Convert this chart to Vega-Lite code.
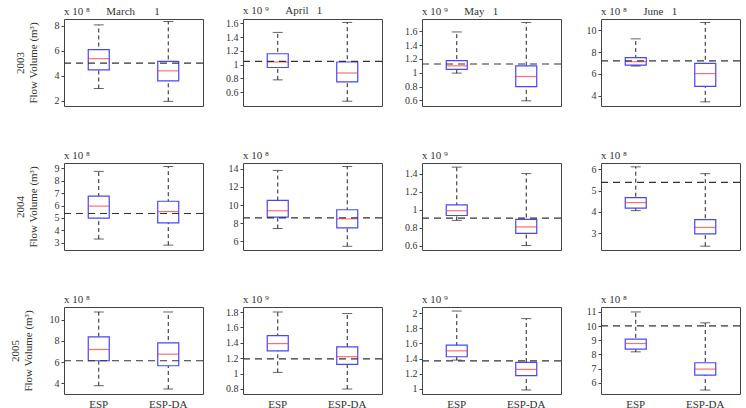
{
"$schema":"https://vega.github.io/schema/vega-lite/v6.json",
"background":"white",
"padding":{"left":8,"top":4,"right":2,"bottom":4},
"data":{"values":[
{"p":"2003-Mar","g":"ESP","lo":3.0,"q1":4.49,"md":5.38,"q3":6.11,"hi":8.08,"ref":5.02},
{"p":"2003-Mar","g":"ESP-DA","lo":1.97,"q1":3.6,"md":4.41,"q3":5.16,"hi":8.35,"ref":5.02},
{"p":"2003-Apr","g":"ESP","lo":0.78,"q1":0.96,"md":1.04,"q3":1.16,"hi":1.47,"ref":1.05},
{"p":"2003-Apr","g":"ESP-DA","lo":0.47,"q1":0.75,"md":0.88,"q3":1.04,"hi":1.615,"ref":1.05},
{"p":"2003-May","g":"ESP","lo":0.995,"q1":1.05,"md":1.10,"q3":1.176,"hi":1.59,"ref":1.127},
{"p":"2003-May","g":"ESP-DA","lo":0.595,"q1":0.80,"md":0.946,"q3":1.10,"hi":1.727,"ref":1.127},
{"p":"2003-Jun","g":"ESP","lo":6.72,"q1":6.8,"md":7.12,"q3":7.5,"hi":9.21,"ref":7.2},
{"p":"2003-Jun","g":"ESP-DA","lo":3.44,"q1":4.85,"md":6.03,"q3":6.96,"hi":10.71,"ref":7.2},
{"p":"2004-Mar","g":"ESP","lo":3.31,"q1":4.99,"md":5.95,"q3":6.75,"hi":8.74,"ref":5.36},
{"p":"2004-Mar","g":"ESP-DA","lo":2.82,"q1":4.61,"md":5.51,"q3":6.34,"hi":9.13,"ref":5.36},
{"p":"2004-Apr","g":"ESP","lo":7.41,"q1":8.66,"md":9.37,"q3":10.51,"hi":13.82,"ref":8.58},
{"p":"2004-Apr","g":"ESP-DA","lo":5.45,"q1":7.48,"md":8.48,"q3":9.48,"hi":14.25,"ref":8.58},
{"p":"2004-May","g":"ESP","lo":0.88,"q1":0.934,"md":0.987,"q3":1.052,"hi":1.472,"ref":0.905},
{"p":"2004-May","g":"ESP-DA","lo":0.6,"q1":0.736,"md":0.807,"q3":0.89,"hi":1.4,"ref":0.905},
{"p":"2004-Jun","g":"ESP","lo":4.06,"q1":4.18,"md":4.44,"q3":4.67,"hi":6.12,"ref":5.39},
{"p":"2004-Jun","g":"ESP-DA","lo":2.39,"q1":2.97,"md":3.27,"q3":3.64,"hi":5.8,"ref":5.39},
{"p":"2005-Mar","g":"ESP","lo":3.78,"q1":6.13,"md":7.19,"q3":8.38,"hi":10.72,"ref":6.13},
{"p":"2005-Mar","g":"ESP-DA","lo":3.47,"q1":5.66,"md":6.75,"q3":7.81,"hi":10.72,"ref":6.13},
{"p":"2005-Apr","g":"ESP","lo":1.016,"q1":1.296,"md":1.39,"q3":1.494,"hi":1.8,"ref":1.19},
{"p":"2005-Apr","g":"ESP-DA","lo":0.8,"q1":1.119,"md":1.22,"q3":1.347,"hi":1.78,"ref":1.19},
{"p":"2005-May","g":"ESP","lo":1.38,"q1":1.424,"md":1.502,"q3":1.576,"hi":2.026,"ref":1.37},
{"p":"2005-May","g":"ESP-DA","lo":0.987,"q1":1.175,"md":1.258,"q3":1.349,"hi":1.926,"ref":1.37},
{"p":"2005-Jun","g":"ESP","lo":8.18,"q1":8.37,"md":8.77,"q3":9.08,"hi":11.0,"ref":10.01},
{"p":"2005-Jun","g":"ESP-DA","lo":5.48,"q1":6.54,"md":6.96,"q3":7.41,"hi":10.23,"ref":10.01}
]},
"columns":4,
"spacing":{"row":57,"column":40},
"bounds":"flush",
"concat":[
{"width":139,"height":87,"title":{"text":"x 10\u00a0⁸\u00a0\u00a0\u00a0\u00a0\u00a0\u00a0March\u00a0\u00a0\u00a0\u00a0\u00a0\u00a0\u00a01"},
 "transform":[{"filter":"datum.p==='2003-Mar'"}],
 "encoding":{"y":{"field":"md","type":"quantitative","scale":{"domain":[1.6,8.55],"nice":false,"zero":false},"axis":{"values":[2,4,6,8],"format":"~r","title":["2003","Flow Volume (m³)"]}}},
 "layer":[
  {"encoding":{"x":{"field":"g","type":"nominal","scale":{"domain":["ESP","ESP-DA"],"paddingInner":0,"paddingOuter":0},"axis":null}},
   "layer":[
    {"mark":{"type":"rule","color":"#222","strokeDash":[4,3]},"encoding":{"y":{"field":"lo","type":"quantitative"},"y2":{"field":"hi"}}},
    {"mark":{"type":"bar","size":21,"fill":"white","stroke":"#4646ff","strokeWidth":1.2},"encoding":{"y":{"field":"q1","type":"quantitative"},"y2":{"field":"q3"}}},
    {"mark":{"type":"tick","size":21,"thickness":1.2,"color":"#ff3030"}},
    {"mark":{"type":"tick","size":10,"thickness":1,"color":"#222"},"encoding":{"y":{"field":"hi","type":"quantitative"}}},
    {"mark":{"type":"tick","size":10,"thickness":1,"color":"#222"},"encoding":{"y":{"field":"lo","type":"quantitative"}}}
   ]},
  {"mark":{"type":"rule","color":"#333","strokeDash":[7,5],"strokeWidth":1.2},"encoding":{"y":{"field":"ref","type":"quantitative","aggregate":"mean"}}}
 ]},
{"width":139,"height":87,"title":{"text":"x 10\u00a0⁹\u00a0\u00a0\u00a0\u00a0\u00a0\u00a0April\u00a0\u00a0\u00a01"},
 "transform":[{"filter":"datum.p==='2003-Apr'"}],
 "encoding":{"y":{"field":"md","type":"quantitative","scale":{"domain":[0.40,1.665],"nice":false,"zero":false},"axis":{"values":[0.6,0.8,1,1.2,1.4,1.6],"format":"~r","title":null}}},
 "layer":[
  {"encoding":{"x":{"field":"g","type":"nominal","scale":{"domain":["ESP","ESP-DA"],"paddingInner":0,"paddingOuter":0},"axis":null}},
   "layer":[
    {"mark":{"type":"rule","color":"#222","strokeDash":[4,3]},"encoding":{"y":{"field":"lo","type":"quantitative"},"y2":{"field":"hi"}}},
    {"mark":{"type":"bar","size":21,"fill":"white","stroke":"#4646ff","strokeWidth":1.2},"encoding":{"y":{"field":"q1","type":"quantitative"},"y2":{"field":"q3"}}},
    {"mark":{"type":"tick","size":21,"thickness":1.2,"color":"#ff3030"}},
    {"mark":{"type":"tick","size":10,"thickness":1,"color":"#222"},"encoding":{"y":{"field":"hi","type":"quantitative"}}},
    {"mark":{"type":"tick","size":10,"thickness":1,"color":"#222"},"encoding":{"y":{"field":"lo","type":"quantitative"}}}
   ]},
  {"mark":{"type":"rule","color":"#333","strokeDash":[7,5],"strokeWidth":1.2},"encoding":{"y":{"field":"ref","type":"quantitative","aggregate":"mean"}}}
 ]},
{"width":139,"height":87,"title":{"text":"x 10\u00a0⁹\u00a0\u00a0\u00a0\u00a0\u00a0\u00a0May\u00a0\u00a0\u00a01"},
 "transform":[{"filter":"datum.p==='2003-May'"}],
 "encoding":{"y":{"field":"md","type":"quantitative","scale":{"domain":[0.52,1.777],"nice":false,"zero":false},"axis":{"values":[0.6,0.8,1,1.2,1.4,1.6,1.8],"format":"~r","title":null}}},
 "layer":[
  {"encoding":{"x":{"field":"g","type":"nominal","scale":{"domain":["ESP","ESP-DA"],"paddingInner":0,"paddingOuter":0},"axis":null}},
   "layer":[
    {"mark":{"type":"rule","color":"#222","strokeDash":[4,3]},"encoding":{"y":{"field":"lo","type":"quantitative"},"y2":{"field":"hi"}}},
    {"mark":{"type":"bar","size":21,"fill":"white","stroke":"#4646ff","strokeWidth":1.2},"encoding":{"y":{"field":"q1","type":"quantitative"},"y2":{"field":"q3"}}},
    {"mark":{"type":"tick","size":21,"thickness":1.2,"color":"#ff3030"}},
    {"mark":{"type":"tick","size":10,"thickness":1,"color":"#222"},"encoding":{"y":{"field":"hi","type":"quantitative"}}},
    {"mark":{"type":"tick","size":10,"thickness":1,"color":"#222"},"encoding":{"y":{"field":"lo","type":"quantitative"}}}
   ]},
  {"mark":{"type":"rule","color":"#333","strokeDash":[7,5],"strokeWidth":1.2},"encoding":{"y":{"field":"ref","type":"quantitative","aggregate":"mean"}}}
 ]},
{"width":139,"height":87,"title":{"text":"x 10\u00a0⁸\u00a0\u00a0\u00a0\u00a0\u00a0\u00a0June\u00a0\u00a0\u00a01"},
 "transform":[{"filter":"datum.p==='2003-Jun'"}],
 "encoding":{"y":{"field":"md","type":"quantitative","scale":{"domain":[3.06,11.03],"nice":false,"zero":false},"axis":{"values":[4,6,8,10],"format":"~r","title":null}}},
 "layer":[
  {"encoding":{"x":{"field":"g","type":"nominal","scale":{"domain":["ESP","ESP-DA"],"paddingInner":0,"paddingOuter":0},"axis":null}},
   "layer":[
    {"mark":{"type":"rule","color":"#222","strokeDash":[4,3]},"encoding":{"y":{"field":"lo","type":"quantitative"},"y2":{"field":"hi"}}},
    {"mark":{"type":"bar","size":21,"fill":"white","stroke":"#4646ff","strokeWidth":1.2},"encoding":{"y":{"field":"q1","type":"quantitative"},"y2":{"field":"q3"}}},
    {"mark":{"type":"tick","size":21,"thickness":1.2,"color":"#ff3030"}},
    {"mark":{"type":"tick","size":10,"thickness":1,"color":"#222"},"encoding":{"y":{"field":"hi","type":"quantitative"}}},
    {"mark":{"type":"tick","size":10,"thickness":1,"color":"#222"},"encoding":{"y":{"field":"lo","type":"quantitative"}}}
   ]},
  {"mark":{"type":"rule","color":"#333","strokeDash":[7,5],"strokeWidth":1.2},"encoding":{"y":{"field":"ref","type":"quantitative","aggregate":"mean"}}}
 ]},
{"width":139,"height":87,"title":{"text":"x 10\u00a0⁸"},
 "transform":[{"filter":"datum.p==='2004-Mar'"}],
 "encoding":{"y":{"field":"md","type":"quantitative","scale":{"domain":[2.43,9.41],"nice":false,"zero":false},"axis":{"values":[3,4,5,6,7,8,9],"format":"~r","title":["2004","Flow Volume (m³)"]}}},
 "layer":[
  {"encoding":{"x":{"field":"g","type":"nominal","scale":{"domain":["ESP","ESP-DA"],"paddingInner":0,"paddingOuter":0},"axis":null}},
   "layer":[
    {"mark":{"type":"rule","color":"#222","strokeDash":[4,3]},"encoding":{"y":{"field":"lo","type":"quantitative"},"y2":{"field":"hi"}}},
    {"mark":{"type":"bar","size":21,"fill":"white","stroke":"#4646ff","strokeWidth":1.2},"encoding":{"y":{"field":"q1","type":"quantitative"},"y2":{"field":"q3"}}},
    {"mark":{"type":"tick","size":21,"thickness":1.2,"color":"#ff3030"}},
    {"mark":{"type":"tick","size":10,"thickness":1,"color":"#222"},"encoding":{"y":{"field":"hi","type":"quantitative"}}},
    {"mark":{"type":"tick","size":10,"thickness":1,"color":"#222"},"encoding":{"y":{"field":"lo","type":"quantitative"}}}
   ]},
  {"mark":{"type":"rule","color":"#333","strokeDash":[7,5],"strokeWidth":1.2},"encoding":{"y":{"field":"ref","type":"quantitative","aggregate":"mean"}}}
 ]},
{"width":139,"height":87,"title":{"text":"x 10\u00a0⁸"},
 "transform":[{"filter":"datum.p==='2004-Apr'"}],
 "encoding":{"y":{"field":"md","type":"quantitative","scale":{"domain":[5.04,14.64],"nice":false,"zero":false},"axis":{"values":[6,8,10,12,14],"format":"~r","title":null}}},
 "layer":[
  {"encoding":{"x":{"field":"g","type":"nominal","scale":{"domain":["ESP","ESP-DA"],"paddingInner":0,"paddingOuter":0},"axis":null}},
   "layer":[
    {"mark":{"type":"rule","color":"#222","strokeDash":[4,3]},"encoding":{"y":{"field":"lo","type":"quantitative"},"y2":{"field":"hi"}}},
    {"mark":{"type":"bar","size":21,"fill":"white","stroke":"#4646ff","strokeWidth":1.2},"encoding":{"y":{"field":"q1","type":"quantitative"},"y2":{"field":"q3"}}},
    {"mark":{"type":"tick","size":21,"thickness":1.2,"color":"#ff3030"}},
    {"mark":{"type":"tick","size":10,"thickness":1,"color":"#222"},"encoding":{"y":{"field":"hi","type":"quantitative"}}},
    {"mark":{"type":"tick","size":10,"thickness":1,"color":"#222"},"encoding":{"y":{"field":"lo","type":"quantitative"}}}
   ]},
  {"mark":{"type":"rule","color":"#333","strokeDash":[7,5],"strokeWidth":1.2},"encoding":{"y":{"field":"ref","type":"quantitative","aggregate":"mean"}}}
 ]},
{"width":139,"height":87,"title":{"text":"x 10\u00a0⁹"},
 "transform":[{"filter":"datum.p==='2004-May'"}],
 "encoding":{"y":{"field":"md","type":"quantitative","scale":{"domain":[0.55,1.518],"nice":false,"zero":false},"axis":{"values":[0.6,0.8,1,1.2,1.4],"format":"~r","title":null}}},
 "layer":[
  {"encoding":{"x":{"field":"g","type":"nominal","scale":{"domain":["ESP","ESP-DA"],"paddingInner":0,"paddingOuter":0},"axis":null}},
   "layer":[
    {"mark":{"type":"rule","color":"#222","strokeDash":[4,3]},"encoding":{"y":{"field":"lo","type":"quantitative"},"y2":{"field":"hi"}}},
    {"mark":{"type":"bar","size":21,"fill":"white","stroke":"#4646ff","strokeWidth":1.2},"encoding":{"y":{"field":"q1","type":"quantitative"},"y2":{"field":"q3"}}},
    {"mark":{"type":"tick","size":21,"thickness":1.2,"color":"#ff3030"}},
    {"mark":{"type":"tick","size":10,"thickness":1,"color":"#222"},"encoding":{"y":{"field":"hi","type":"quantitative"}}},
    {"mark":{"type":"tick","size":10,"thickness":1,"color":"#222"},"encoding":{"y":{"field":"lo","type":"quantitative"}}}
   ]},
  {"mark":{"type":"rule","color":"#333","strokeDash":[7,5],"strokeWidth":1.2},"encoding":{"y":{"field":"ref","type":"quantitative","aggregate":"mean"}}}
 ]},
{"width":139,"height":87,"title":{"text":"x 10\u00a0⁸"},
 "transform":[{"filter":"datum.p==='2004-Jun'"}],
 "encoding":{"y":{"field":"md","type":"quantitative","scale":{"domain":[2.21,6.3],"nice":false,"zero":false},"axis":{"values":[3,4,5,6],"format":"~r","title":null}}},
 "layer":[
  {"encoding":{"x":{"field":"g","type":"nominal","scale":{"domain":["ESP","ESP-DA"],"paddingInner":0,"paddingOuter":0},"axis":null}},
   "layer":[
    {"mark":{"type":"rule","color":"#222","strokeDash":[4,3]},"encoding":{"y":{"field":"lo","type":"quantitative"},"y2":{"field":"hi"}}},
    {"mark":{"type":"bar","size":21,"fill":"white","stroke":"#4646ff","strokeWidth":1.2},"encoding":{"y":{"field":"q1","type":"quantitative"},"y2":{"field":"q3"}}},
    {"mark":{"type":"tick","size":21,"thickness":1.2,"color":"#ff3030"}},
    {"mark":{"type":"tick","size":10,"thickness":1,"color":"#222"},"encoding":{"y":{"field":"hi","type":"quantitative"}}},
    {"mark":{"type":"tick","size":10,"thickness":1,"color":"#222"},"encoding":{"y":{"field":"lo","type":"quantitative"}}}
   ]},
  {"mark":{"type":"rule","color":"#333","strokeDash":[7,5],"strokeWidth":1.2},"encoding":{"y":{"field":"ref","type":"quantitative","aggregate":"mean"}}}
 ]},
{"width":139,"height":87,"title":{"text":"x 10\u00a0⁸"},
 "transform":[{"filter":"datum.p==='2005-Mar'"}],
 "encoding":{"y":{"field":"md","type":"quantitative","scale":{"domain":[3.0,11.19],"nice":false,"zero":false},"axis":{"values":[4,6,8,10],"format":"~r","title":["2005","Flow Volume (m³)"]}}},
 "layer":[
  {"encoding":{"x":{"field":"g","type":"nominal","scale":{"domain":["ESP","ESP-DA"],"paddingInner":0,"paddingOuter":0},"axis":{"labelAngle":0,"ticks":false,"title":null,"labelFontSize":11,"labelPadding":4}}},
   "layer":[
    {"mark":{"type":"rule","color":"#222","strokeDash":[4,3]},"encoding":{"y":{"field":"lo","type":"quantitative"},"y2":{"field":"hi"}}},
    {"mark":{"type":"bar","size":21,"fill":"white","stroke":"#4646ff","strokeWidth":1.2},"encoding":{"y":{"field":"q1","type":"quantitative"},"y2":{"field":"q3"}}},
    {"mark":{"type":"tick","size":21,"thickness":1.2,"color":"#ff3030"}},
    {"mark":{"type":"tick","size":10,"thickness":1,"color":"#222"},"encoding":{"y":{"field":"hi","type":"quantitative"}}},
    {"mark":{"type":"tick","size":10,"thickness":1,"color":"#222"},"encoding":{"y":{"field":"lo","type":"quantitative"}}}
   ]},
  {"mark":{"type":"rule","color":"#333","strokeDash":[7,5],"strokeWidth":1.2},"encoding":{"y":{"field":"ref","type":"quantitative","aggregate":"mean"}}}
 ]},
{"width":139,"height":87,"title":{"text":"x 10\u00a0⁹"},
 "transform":[{"filter":"datum.p==='2005-Apr'"}],
 "encoding":{"y":{"field":"md","type":"quantitative","scale":{"domain":[0.735,1.865],"nice":false,"zero":false},"axis":{"values":[0.8,1,1.2,1.4,1.6,1.8],"format":"~r","title":null}}},
 "layer":[
  {"encoding":{"x":{"field":"g","type":"nominal","scale":{"domain":["ESP","ESP-DA"],"paddingInner":0,"paddingOuter":0},"axis":{"labelAngle":0,"ticks":false,"title":null,"labelFontSize":11,"labelPadding":4}}},
   "layer":[
    {"mark":{"type":"rule","color":"#222","strokeDash":[4,3]},"encoding":{"y":{"field":"lo","type":"quantitative"},"y2":{"field":"hi"}}},
    {"mark":{"type":"bar","size":21,"fill":"white","stroke":"#4646ff","strokeWidth":1.2},"encoding":{"y":{"field":"q1","type":"quantitative"},"y2":{"field":"q3"}}},
    {"mark":{"type":"tick","size":21,"thickness":1.2,"color":"#ff3030"}},
    {"mark":{"type":"tick","size":10,"thickness":1,"color":"#222"},"encoding":{"y":{"field":"hi","type":"quantitative"}}},
    {"mark":{"type":"tick","size":10,"thickness":1,"color":"#222"},"encoding":{"y":{"field":"lo","type":"quantitative"}}}
   ]},
  {"mark":{"type":"rule","color":"#333","strokeDash":[7,5],"strokeWidth":1.2},"encoding":{"y":{"field":"ref","type":"quantitative","aggregate":"mean"}}}
 ]},
{"width":139,"height":87,"title":{"text":"x 10\u00a0⁹"},
 "transform":[{"filter":"datum.p==='2005-May'"}],
 "encoding":{"y":{"field":"md","type":"quantitative","scale":{"domain":[0.934,2.079],"nice":false,"zero":false},"axis":{"values":[1,1.2,1.4,1.6,1.8,2],"format":"~r","title":null}}},
 "layer":[
  {"encoding":{"x":{"field":"g","type":"nominal","scale":{"domain":["ESP","ESP-DA"],"paddingInner":0,"paddingOuter":0},"axis":{"labelAngle":0,"ticks":false,"title":null,"labelFontSize":11,"labelPadding":4}}},
   "layer":[
    {"mark":{"type":"rule","color":"#222","strokeDash":[4,3]},"encoding":{"y":{"field":"lo","type":"quantitative"},"y2":{"field":"hi"}}},
    {"mark":{"type":"bar","size":21,"fill":"white","stroke":"#4646ff","strokeWidth":1.2},"encoding":{"y":{"field":"q1","type":"quantitative"},"y2":{"field":"q3"}}},
    {"mark":{"type":"tick","size":21,"thickness":1.2,"color":"#ff3030"}},
    {"mark":{"type":"tick","size":10,"thickness":1,"color":"#222"},"encoding":{"y":{"field":"hi","type":"quantitative"}}},
    {"mark":{"type":"tick","size":10,"thickness":1,"color":"#222"},"encoding":{"y":{"field":"lo","type":"quantitative"}}}
   ]},
  {"mark":{"type":"rule","color":"#333","strokeDash":[7,5],"strokeWidth":1.2},"encoding":{"y":{"field":"ref","type":"quantitative","aggregate":"mean"}}}
 ]},
{"width":139,"height":87,"title":{"text":"x 10\u00a0⁸"},
 "transform":[{"filter":"datum.p==='2005-Jun'"}],
 "encoding":{"y":{"field":"md","type":"quantitative","scale":{"domain":[5.2,11.35],"nice":false,"zero":false},"axis":{"values":[6,7,8,9,10,11],"format":"~r","title":null}}},
 "layer":[
  {"encoding":{"x":{"field":"g","type":"nominal","scale":{"domain":["ESP","ESP-DA"],"paddingInner":0,"paddingOuter":0},"axis":{"labelAngle":0,"ticks":false,"title":null,"labelFontSize":11,"labelPadding":4}}},
   "layer":[
    {"mark":{"type":"rule","color":"#222","strokeDash":[4,3]},"encoding":{"y":{"field":"lo","type":"quantitative"},"y2":{"field":"hi"}}},
    {"mark":{"type":"bar","size":21,"fill":"white","stroke":"#4646ff","strokeWidth":1.2},"encoding":{"y":{"field":"q1","type":"quantitative"},"y2":{"field":"q3"}}},
    {"mark":{"type":"tick","size":21,"thickness":1.2,"color":"#ff3030"}},
    {"mark":{"type":"tick","size":10,"thickness":1,"color":"#222"},"encoding":{"y":{"field":"hi","type":"quantitative"}}},
    {"mark":{"type":"tick","size":10,"thickness":1,"color":"#222"},"encoding":{"y":{"field":"lo","type":"quantitative"}}}
   ]},
  {"mark":{"type":"rule","color":"#333","strokeDash":[7,5],"strokeWidth":1.2},"encoding":{"y":{"field":"ref","type":"quantitative","aggregate":"mean"}}}
 ]}
],
"config":{
 "font":"Liberation Serif",
 "view":{"stroke":"#444","strokeWidth":1},
 "axis":{"labelFont":"Liberation Serif","labelFontSize":10,"labelColor":"#333","tickColor":"#444","tickSize":3,"domain":false,"grid":false,"titleFont":"Liberation Serif","titleFontSize":11,"titleFontWeight":"normal","titleColor":"#333","labelPadding":2,"titlePadding":16},
 "title":{"font":"Liberation Serif","fontSize":11,"fontWeight":"normal","color":"#333","anchor":"start","frame":"group","offset":2}
}
}
